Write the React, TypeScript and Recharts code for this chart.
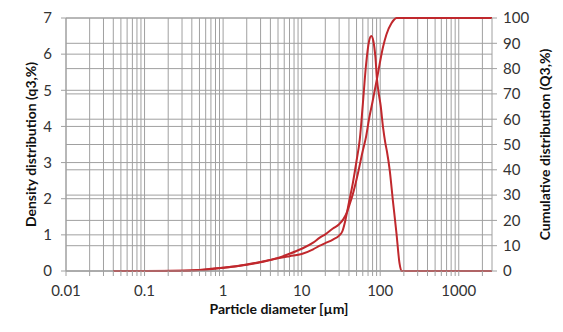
import React from 'react';
import {
  LineChart,
  Line,
  XAxis,
  YAxis,
  CartesianGrid,
  ReferenceLine,
} from 'recharts';

// particle size (µm) and density distribution q3 (%)
const densitySizes = [
  0.04, 0.1, 0.3, 0.5, 0.7, 1, 1.5, 2, 3, 5, 7, 10, 14, 17, 20, 25, 30, 33, 36, 40,
  45, 50, 55, 60, 66, 72, 77, 82, 87, 91, 96, 101, 109, 116, 122, 132, 145, 161, 176,
  187, 300, 1000, 2650,
];
const densityValues = [
  0, 0, 0.01, 0.03, 0.06, 0.09, 0.13, 0.17, 0.24, 0.35, 0.41, 0.47, 0.6, 0.7, 0.77,
  0.87, 0.98, 1.1, 1.4, 1.9, 2.45, 3.05, 3.65, 4.6, 5.7, 6.35, 6.5, 6.35, 5.9, 5.3,
  4.9, 4.6, 3.95, 3.55, 3.3, 2.8, 1.95, 1.05, 0.22, 0, 0, 0, 0,
];

// particle size (µm) and cumulative distribution Q3 (%)
const cumulativeSizes = [
  0.04, 0.1, 0.3, 0.5, 1, 2, 3, 5, 7, 10, 14, 17, 20, 25, 30, 34, 38, 41, 45, 52, 60,
  66, 72, 80, 91, 100, 109, 120, 139, 150, 161, 300, 2650,
];
const cumulativeValues = [
  0, 0, 0.1, 0.4, 1.3, 2.6, 3.6, 5.2, 6.8, 8.8, 11.2, 13.2, 14.5, 16.8, 18.5, 20.5,
  23.5, 26.5, 30.5, 38.5, 47.5, 53, 60, 67, 76, 83, 88.7, 93.5, 97.9, 99.3, 100, 100,
  100,
];

const decadeTicks = [0.01, 0.1, 1, 10, 100, 1000];
const leftTicks = [0, 1, 2, 3, 4, 5, 6, 7];
const rightTicks = [0, 10, 20, 30, 40, 50, 60, 70, 80, 90, 100];

const X_MAX = 2650;
const LINE_COLOR = '#c0282d';
const GRID_COLOR = '#a0a0a0';
const TEXT_COLOR = '#333333';

// log grid: 1..9 in each decade
const xGridTicks: number[] = [];
decadeTicks.forEach((d) => {
  for (let k = 1; k <= 9; k++) {
    const v = +(d * k).toPrecision(3);
    if (v <= X_MAX) xGridTicks.push(v);
  }
});

const densityData = densitySizes.map((size, i) => ({ size, q3: densityValues[i] }));
const cumulativeData = cumulativeSizes.map((size, i) => ({ size, Q3: cumulativeValues[i] }));

const tickStyle = { fontSize: 15, fill: TEXT_COLOR };
const titleStyle = { fontSize: 14, fontWeight: 700, fill: '#111', textAnchor: 'middle' as const };

// only label the decades, minor ticks get just the tick mark
const XTick = (props: any) => {
  const { x, y, payload } = props;
  if (!decadeTicks.includes(payload.value)) return <g />;
  return (
    <text x={x} y={y} dy="0.71em" textAnchor="middle" fontSize={15} fill={TEXT_COLOR}>
      {payload.value}
    </text>
  );
};

const App: React.FC = () => {
  return (
    <div style={{ position: 'absolute', left: 0, top: 0, fontFamily: 'Lato, sans-serif', background: '#fff' }}>
      <LineChart width={563} height={332} margin={{ top: 18, right: 0, bottom: 0, left: 0 }}>
        <CartesianGrid
          yAxisId="left"
          stroke={GRID_COLOR}
          strokeWidth={1}
          verticalValues={xGridTicks}
        />
        {rightTicks.map((t) => (
          <ReferenceLine key={`r-${t}`} yAxisId="right" y={t} stroke={GRID_COLOR} strokeWidth={1} />
        ))}
        <XAxis
          dataKey="size"
          type="number"
          scale="log"
          domain={[0.01, X_MAX]}
          allowDataOverflow
          ticks={xGridTicks}
          interval={0}
          tick={<XTick />}
          tickSize={5}
          tickMargin={9}
          height={61}
          stroke={GRID_COLOR}
          label={{ value: 'Particle diameter [µm]', position: 'insideBottom', offset: 18, style: titleStyle }}
        />
        <YAxis
          yAxisId="left"
          domain={[0, 7]}
          ticks={leftTicks}
          interval={0}
          width={66}
          tick={tickStyle}
          tickSize={5}
          tickMargin={9}
          stroke={GRID_COLOR}
          label={{ value: 'Density distribution (q3,%)', angle: -90, position: 'insideLeft', offset: 31, style: titleStyle }}
        />
        <YAxis
          yAxisId="right"
          orientation="right"
          domain={[0, 100]}
          ticks={rightTicks}
          interval={0}
          width={71}
          tick={tickStyle}
          tickSize={5}
          tickMargin={6}
          stroke={GRID_COLOR}
          label={{ value: 'Cumulative distribution (Q3,%)', angle: -90, position: 'insideRight', offset: 18, style: titleStyle }}
        />
        <Line
          yAxisId="left"
          data={densityData}
          dataKey="q3"
          type="monotone"
          stroke={LINE_COLOR}
          strokeWidth={2}
          dot={false}
          isAnimationActive={false}
        />
        <Line
          yAxisId="right"
          data={cumulativeData}
          dataKey="Q3"
          type="monotone"
          stroke={LINE_COLOR}
          strokeWidth={2}
          dot={false}
          isAnimationActive={false}
        />
      </LineChart>
    </div>
  );
};

export default App;
